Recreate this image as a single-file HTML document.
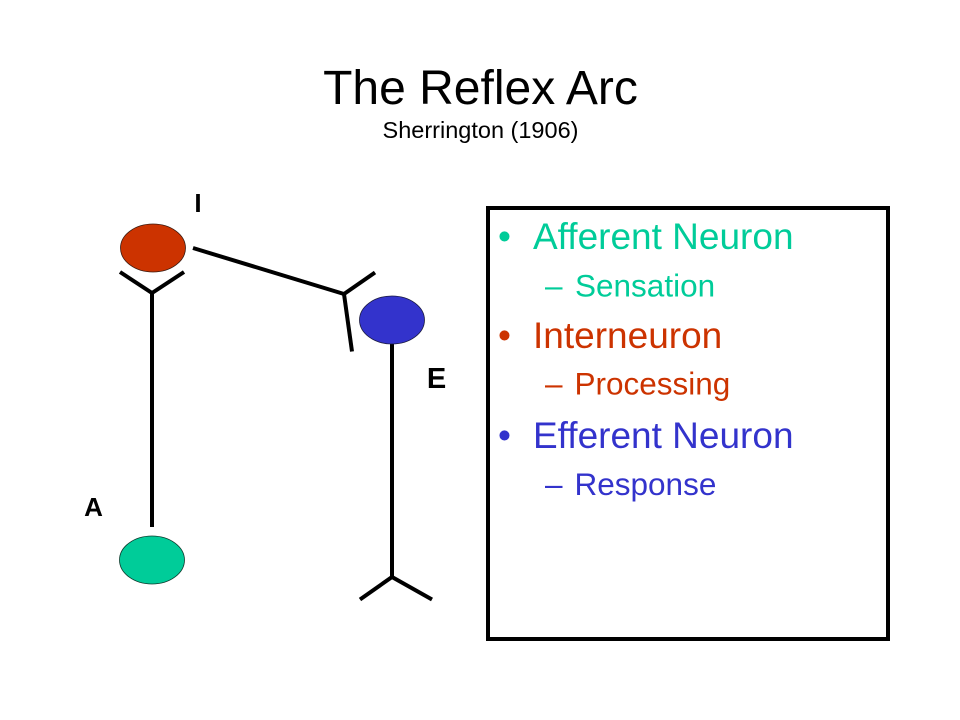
<!DOCTYPE html>
<html>
<head>
<meta charset="utf-8">
<style>
  html, body { margin: 0; padding: 0; background: #ffffff; }
  body { width: 960px; height: 720px; overflow: hidden; }
  svg { display: block; }
  text { font-family: "Liberation Sans", Arial, sans-serif; }
</style>
</head>
<body>
<svg width="960" height="720" viewBox="0 0 960 720" xmlns="http://www.w3.org/2000/svg">
  <rect x="0" y="0" width="960" height="720" fill="#ffffff"/>

  <!-- Title -->
  <text x="480.5" y="104" font-size="48" text-anchor="middle" fill="#000">The Reflex Arc</text>
  <text x="480.5" y="138" font-size="23.5" text-anchor="middle" fill="#000">Sherrington (1906)</text>

  <!-- Lines -->
  <g stroke="#000" stroke-width="4" fill="none" stroke-linecap="butt" stroke-linejoin="miter">
    <!-- Afferent Y under red -->
    <polyline points="120,272 152,293 184,272"/>
    <line x1="152" y1="293" x2="152" y2="527"/>
    <!-- Interneuron connector -->
    <line x1="193" y1="248" x2="344" y2="294"/>
    <line x1="344" y1="294" x2="375" y2="272.5"/>
    <line x1="344" y1="294" x2="352" y2="351.5"/>
    <!-- Efferent stem -->
    <line x1="392" y1="344" x2="392" y2="577"/>
    <polyline points="360,599.5 392,577 432,599.5"/>
  </g>

  <!-- Neurons -->
  <ellipse cx="153" cy="248" rx="32.5" ry="24" fill="#CC3300" stroke="#3a1a10" stroke-width="0.8"/>
  <ellipse cx="392" cy="320" rx="32.5" ry="24" fill="#3333CC" stroke="#1a1a40" stroke-width="0.8"/>
  <ellipse cx="152" cy="560" rx="32.5" ry="24" fill="#00CC99" stroke="#0d3a2c" stroke-width="0.8"/>

  <!-- Labels -->
  <text x="198" y="212" font-size="26" font-weight="bold" text-anchor="middle" fill="#000">I</text>
  <text x="436.5" y="388" font-size="29" font-weight="bold" text-anchor="middle" fill="#000">E</text>
  <text x="93.5" y="516" font-size="26" font-weight="bold" text-anchor="middle" fill="#000">A</text>

  <!-- Box -->
  <rect x="488" y="208" width="400" height="431" fill="none" stroke="#000" stroke-width="4"/>

  <!-- Box text -->
  <g font-size="37">
    <text x="498" y="249" fill="#00CC99">•</text>
    <text x="533" y="249" fill="#00CC99">Afferent Neuron</text>
    <text x="498" y="348" fill="#CC3300">•</text>
    <text x="533" y="348" fill="#CC3300">Interneuron</text>
    <text x="498" y="448" fill="#3333CC">•</text>
    <text x="533" y="448" fill="#3333CC">Efferent Neuron</text>
  </g>
  <g font-size="31.5">
    <text x="545" y="296.5" fill="#00CC99">–</text>
    <text x="575" y="296.5" fill="#00CC99">Sensation</text>
    <text x="545" y="394.5" fill="#CC3300">–</text>
    <text x="574.5" y="394.5" fill="#CC3300">Processing</text>
    <text x="545" y="495" fill="#3333CC">–</text>
    <text x="574.5" y="495" fill="#3333CC">Response</text>
  </g>
</svg>
</body>
</html>
